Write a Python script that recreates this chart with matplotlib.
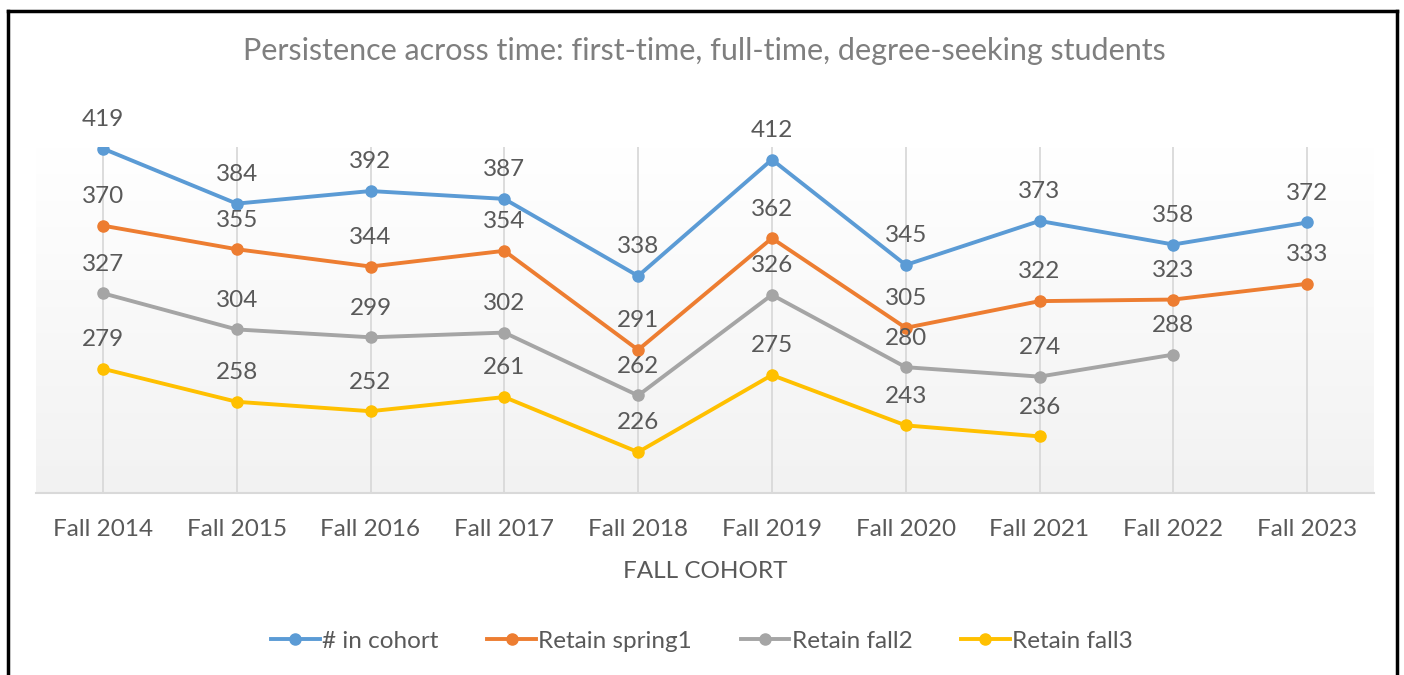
import numpy as np
import matplotlib
matplotlib.use("Agg")
import matplotlib.pyplot as plt
from matplotlib.lines import Line2D

plt.rcParams['font.family'] = ['Lato', 'DejaVu Sans']

cohorts = ["Fall 2014", "Fall 2015", "Fall 2016", "Fall 2017", "Fall 2018",
           "Fall 2019", "Fall 2020", "Fall 2021", "Fall 2022", "Fall 2023"]
in_cohort = [419, 384, 392, 387, 338, 412, 345, 373, 358, 372]
retain_spring1 = [370, 355, 344, 354, 291, 362, 305, 322, 323, 333]
retain_fall2 = [327, 304, 299, 302, 262, 326, 280, 274, 288]
retain_fall3 = [279, 258, 252, 261, 226, 275, 243, 236]

series = [
    ("# in cohort", in_cohort, "#5B9BD5"),
    ("Retain spring1", retain_spring1, "#ED7D31"),
    ("Retain fall2", retain_fall2, "#A5A5A5"),
    ("Retain fall3", retain_fall3, "#FFC000"),
]

text_col = "#595959"
fs = 17.5

fig = plt.figure(figsize=(14.04, 6.75), dpi=100)
ax = fig.add_axes([36/1404, 1-493/675, (1374-36)/1404, (493-147)/675])

ymin, ymax = 200, 420
ax.set_xlim(-0.5, len(cohorts) - 0.5)
ax.set_ylim(ymin, ymax)

# gradient background of the plot area
grad = np.linspace(0, 1, 256).reshape(-1, 1)
ax.imshow(grad, extent=(-0.5, len(cohorts) - 0.5, ymin, ymax), aspect="auto",
          cmap=matplotlib.colors.LinearSegmentedColormap.from_list("g", ["#f2f2f2", "#ffffff"]),
          origin="lower", zorder=0)

for i in range(len(cohorts)):
    ax.axvline(i, color="#d9d9d9", lw=1.3, zorder=1)

for name, vals, col in series:
    x = np.arange(len(vals))
    ax.plot(x, vals, color=col, lw=2.8, marker="o", ms=8, zorder=3, label=name)
    for xi, v in zip(x, vals):
        ax.annotate(str(v), (xi, v), xytext=(0, 21), textcoords="offset points",
                    ha="center", va="center", fontsize=fs, color=text_col, zorder=4,
                    annotation_clip=False)

for s in ["top", "left", "right"]:
    ax.spines[s].set_visible(False)
ax.spines["bottom"].set_color("#d9d9d9")
ax.spines["bottom"].set_linewidth(1.5)
ax.set_yticks([])
ax.set_xticks(range(len(cohorts)))
ax.set_xticklabels(cohorts, fontsize=fs, color=text_col)
ax.tick_params(axis="x", length=0, pad=18.5)
ax.set_xlabel("FALL COHORT", fontsize=fs, color=text_col)
ax.xaxis.set_label_coords(0.5, (493-571)/346)
ax.xaxis.label.set_va("center")

fig.text(0.502, 1-51/675, "Persistence across time: first-time, full-time, degree-seeking students",
         ha="center", va="center", fontsize=22, color="#7f7f7f")

handles = [Line2D([], [], color=c, lw=2.8, marker="o", ms=8) for _, _, c in series]
fig.legend(handles, [n for n, _, _ in series], loc="center", bbox_to_anchor=(0.5, 1-641/675),
           ncol=4, frameon=False, fontsize=fs, handlelength=2.0, handletextpad=0.1,
           columnspacing=2.0, labelcolor=text_col)

# chart border
for xs, ys in [([8/1404, 8/1404], [0, 1-11/675]),
               ([8/1404, 1397/1404], [1-11/675, 1-11/675]),
               ([1397/1404, 1397/1404], [1-11/675, 0])]:
    fig.add_artist(Line2D(xs, ys, color="black", lw=2.5, transform=fig.transFigure))

fig.savefig("out.png", dpi=100, facecolor="white")
